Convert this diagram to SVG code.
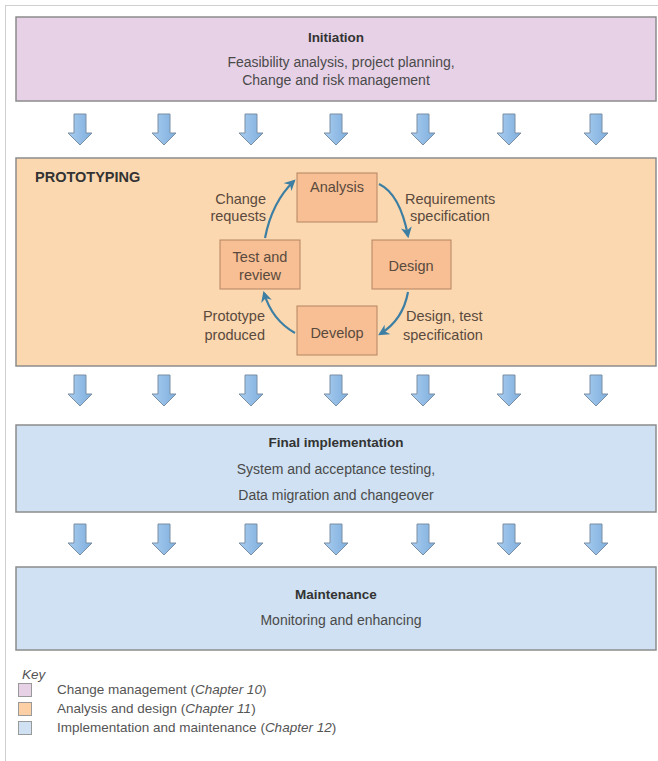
<svg xmlns="http://www.w3.org/2000/svg" width="658" height="761" viewBox="0 0 658 761">
  <defs>
    <linearGradient id="arrowFill" x1="0" y1="0" x2="1" y2="0">
      <stop offset="0" stop-color="#a9cdf0"/>
      <stop offset="1" stop-color="#7eaedd"/>
    </linearGradient>
    <marker id="cycleHead" viewBox="0 0 10 10" refX="8" refY="5" markerWidth="5" markerHeight="5" orient="auto-start-reverse" markerUnits="strokeWidth">
      <path d="M0,0 L10,5 L0,10 L3,5 Z" fill="#3d7fa3"/>
    </marker>
    <!-- block arrow used in the flow rows -->
    <path id="flowArrow" d="M-6,0 H6 V19 H12 L0,31 L-12,19 H-6 Z"/>
  </defs>
  <style>
    .phase { stroke: #8c8c8c; stroke-width: 1.5; }
    .init { fill: #e7d1e7; }
    .proto { fill: #fcd8b0; }
    .impl { fill: #cfe1f2; }
    .step { fill: #f7bf93; stroke: #b48462; stroke-width: 1; }
    .title { font-family: "Liberation Sans", Arial, sans-serif; font-size: 13.5px; font-weight: bold; fill: #333; text-anchor: middle; }
    .body { font-family: "Liberation Sans", Arial, sans-serif; font-size: 14px; fill: #4a4a4a; text-anchor: middle; }
    .lbl { font-family: "Liberation Sans", Arial, sans-serif; font-size: 14.5px; fill: #5a4a3e; }
    .step-text { font-family: "Liberation Sans", Arial, sans-serif; font-size: 14.5px; fill: #5a4a3e; text-anchor: middle; }
    .key { font-family: "Liberation Sans", Arial, sans-serif; font-size: 13.5px; fill: #555; }
    .flow use { fill: url(#arrowFill); stroke: #7a8ea4; stroke-width: 1; }
    .cycle path { fill: none; stroke: #3d7fa3; stroke-width: 2.2; marker-end: url(#cycleHead); }
  </style>

  <rect x="0" y="0" width="658" height="761" fill="#ffffff"/>
  <!-- outer frame -->
  <rect x="5.5" y="5.5" width="700" height="800" fill="none" stroke="#cfcfcf" stroke-width="1"/>

  <!-- phase: initiation -->
  <g id="initiation">
    <rect class="phase init" x="16" y="17" width="640" height="84"/>
    <text class="title" x="336" y="42">Initiation</text>
    <text class="body" x="341" y="67">Feasibility analysis, project planning,</text>
    <text class="body" x="336" y="85">Change and risk management</text>
  </g>

  <!-- flow arrows between phases -->
  <g id="flow-arrows" class="flow">
    <g transform="translate(0,114)">
      <use href="#flowArrow" x="80"/><use href="#flowArrow" x="164"/><use href="#flowArrow" x="251"/><use href="#flowArrow" x="336"/><use href="#flowArrow" x="423"/><use href="#flowArrow" x="509"/><use href="#flowArrow" x="596"/>
    </g>
    <g transform="translate(0,375)">
      <use href="#flowArrow" x="80"/><use href="#flowArrow" x="164"/><use href="#flowArrow" x="251"/><use href="#flowArrow" x="336"/><use href="#flowArrow" x="423"/><use href="#flowArrow" x="509"/><use href="#flowArrow" x="596"/>
    </g>
    <g transform="translate(0,524)">
      <use href="#flowArrow" x="80"/><use href="#flowArrow" x="164"/><use href="#flowArrow" x="251"/><use href="#flowArrow" x="336"/><use href="#flowArrow" x="423"/><use href="#flowArrow" x="509"/><use href="#flowArrow" x="596"/>
    </g>
  </g>

  <!-- phase: prototyping -->
  <g id="prototyping">
    <rect class="phase proto" x="16" y="158" width="640" height="208"/>
    <text class="title" x="35" y="182" style="text-anchor:start; font-size:14.5px">PROTOTYPING</text>
  </g>

  <g id="analysis">
    <rect class="step" x="297" y="173" width="80" height="49"/>
    <text class="step-text" x="337" y="192">Analysis</text>
  </g>
  <g id="design">
    <rect class="step" x="372" y="240" width="79" height="49"/>
    <text class="step-text" x="411" y="271">Design</text>
  </g>
  <g id="develop">
    <rect class="step" x="297" y="306" width="80" height="49"/>
    <text class="step-text" x="337" y="338">Develop</text>
  </g>
  <g id="test-review">
    <rect class="step" x="220" y="240" width="80" height="49"/>
    <text class="step-text" x="260" y="262">Test and</text>
    <text class="step-text" x="260" y="280">review</text>
  </g>

  <!-- prototyping cycle connectors -->
  <g id="cycle-connectors" class="cycle">
    <path d="M379,184 Q400,194 408,236"/>
    <path d="M408,292 Q403,320 380,334"/>
    <path d="M295,333 Q272,320 264,293"/>
    <path d="M265,238 Q272,202 294,181"/>
  </g>
  <g id="cycle-labels" class="lbl">
    <text x="266" y="204" text-anchor="end">Change</text>
    <text x="266" y="221" text-anchor="end">requests</text>
    <text x="405" y="204">Requirements</text>
    <text x="410" y="221">specification</text>
    <text x="265" y="321" text-anchor="end">Prototype</text>
    <text x="265" y="340" text-anchor="end">produced</text>
    <text x="406" y="321">Design, test</text>
    <text x="403" y="340">specification</text>
  </g>

  <!-- phase: final implementation -->
  <g id="final-implementation">
    <rect class="phase impl" x="16" y="425" width="640" height="87"/>
    <text class="title" x="336" y="447">Final implementation</text>
    <text class="body" x="336" y="474">System and acceptance testing,</text>
    <text class="body" x="336" y="500">Data migration and changeover</text>
  </g>

  <!-- phase: maintenance -->
  <g id="maintenance">
    <rect class="phase impl" x="16" y="567" width="640" height="83"/>
    <text class="title" x="336" y="599">Maintenance</text>
    <text class="body" x="341" y="625">Monitoring and enhancing</text>
  </g>

  <!-- key -->
  <g id="key">
    <text class="key" x="22" y="679" font-style="italic">Key</text>
    <rect x="18.5" y="683.5" width="13" height="13" fill="#e7d1e7" stroke="#999"/>
    <rect x="18.5" y="702.5" width="13" height="13" fill="#fcd0a4" stroke="#999"/>
    <rect x="18.5" y="721.5" width="13" height="13" fill="#cfe1f2" stroke="#999"/>
    <text class="key" x="57" y="694">Change management (<tspan font-style="italic">Chapter 10</tspan>)</text>
    <text class="key" x="57" y="713">Analysis and design (<tspan font-style="italic">Chapter 11</tspan>)</text>
    <text class="key" x="57" y="732">Implementation and maintenance (<tspan font-style="italic">Chapter 12</tspan>)</text>
  </g>
</svg>
